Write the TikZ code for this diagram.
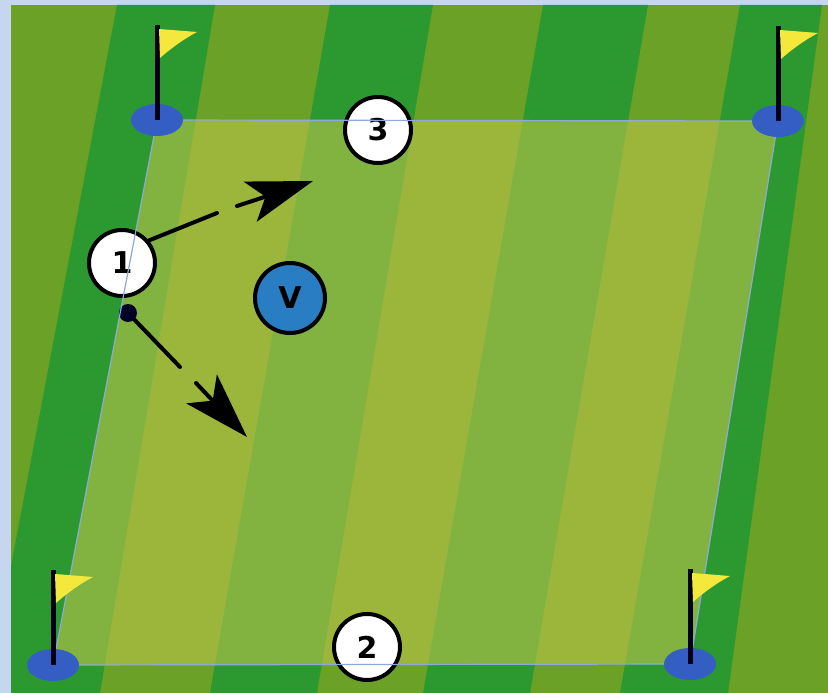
\documentclass[tikz,border=0pt]{standalone}
\usepackage{fontspec}
\newfontfamily\chalk{DejaVu Sans}
\usetikzlibrary{arrows.meta,shapes.geometric}
\definecolor{frame}{RGB}{198,214,240}
\definecolor{turfdark}{RGB}{43,153,48}
\definecolor{turflight}{RGB}{107,161,38}
\definecolor{pitch}{RGB}{189,197,76}
\definecolor{edge}{RGB}{140,170,215}
\definecolor{spot}{RGB}{52,94,196}
\definecolor{vest}{RGB}{40,125,195}
\definecolor{cloth}{RGB}{245,232,60}
\begin{document}
\begin{tikzpicture}[x=1pt,y=-1pt,
        player/.style={circle,draw=black,line width=4pt,fill=white,minimum size=66pt,inner sep=0pt,font=\chalk\bfseries\fontsize{30}{36}\selectfont},
        defender/.style={player,fill=vest,minimum size=70pt},
        cornerspot/.style={ellipse,fill=spot,minimum width=52pt,minimum height=32pt,inner sep=0pt},
        pass/.style={line width=4pt,line cap=round},
        passhead/.style={pass,-{Stealth[length=66pt,width=42pt,inset=16pt]}}]
                \useasboundingbox (0,0) rectangle (828,693);
                \fill[frame] (0,0) rectangle (828,693);
                \fill[turflight] (11,5) rectangle (828,693);
                \begin{scope}
                    \clip (11,5) rectangle (828,693);
                    \foreach \a/\b/\c/\d in {117/215/100/-13, 330/433/317/210, 543/648/530/423, 740/822/728/620}
                        \fill[turfdark] (\a,5) -- (\b,5) -- (\c,693) -- (\d,693) -- cycle;
                \end{scope}

                \coordinate (tl) at (157,120); \coordinate (tr) at (778,121);
                \coordinate (br) at (690,664); \coordinate (bl) at (53,665);
                \fill[pitch,opacity=0.6] (tl) -- (tr) -- (br) -- (bl) -- cycle;

                \node[player] (three) at (378,130) {3};
                \node[player] (one) at (122,263) {1};
                \node[player] (two) at (367,647) {2};
                \node[defender] (v) at (290,298) {V};
                \node[circle,fill=black!85!blue,minimum size=18pt,inner sep=0pt] (ball) at (128,313) {};

                \coordinate (r1) at (217,213); \coordinate (r2) at (237,206); \coordinate (rt) at (313,181);
                \coordinate (d1) at (180,367); \coordinate (d2) at (196,383); \coordinate (dt) at (247,437);
                \draw[pass] (one.40) -- (r1); \draw[passhead] (r2) -- (rt);
                \draw[pass] (ball) -- (d1); \draw[passhead] (d2) -- (dt);

                \draw[edge,line width=1.2pt] (tl) -- (tr) -- (br) -- (bl) -- cycle;
                \foreach \n/\x/\y in {tl/157/120, tr/778/121, br/690/664, bl/53/665} {
                    \node[cornerspot] (\n spot) at (\n) {};
                    \draw[line width=5pt,black!90!blue] (\n) -- (\x,\y-95);
                    \fill[cloth] (\x+2,\y-91) -- (\x+40,\y-88) .. controls (\x+25,\y-80) and (\x+12,\y-70) .. (\x+3,\y-62) -- cycle;
                }
            \end{tikzpicture}
\end{document}
